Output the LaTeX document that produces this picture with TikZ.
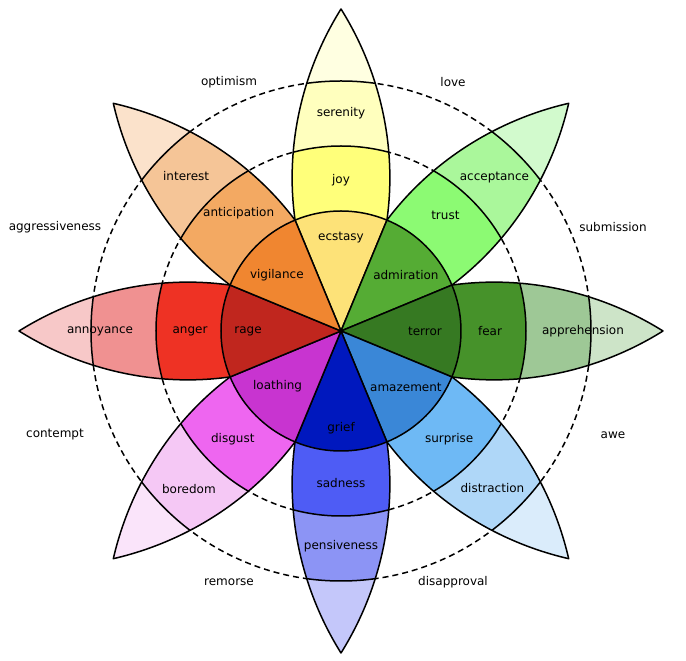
\documentclass[tikz,border=0pt]{standalone}
\usepackage{fontspec}
\setmainfont{DejaVu Sans}

% colours of the petals, from the centre outwards
\definecolor{ecstasyC}{RGB}{253,226,120}
\definecolor{joyC}{RGB}{255,255,122}
\definecolor{serenityC}{RGB}{255,255,190}
\definecolor{yellowtip}{RGB}{255,255,225}
\definecolor{admirationC}{RGB}{85,172,52}
\definecolor{trustC}{RGB}{140,250,115}
\definecolor{acceptanceC}{RGB}{170,247,155}
\definecolor{greentip}{RGB}{210,250,205}
\definecolor{terrorC}{RGB}{54,121,34}
\definecolor{fearC}{RGB}{70,146,42}
\definecolor{apprehensionC}{RGB}{158,200,150}
\definecolor{darkgreentip}{RGB}{205,228,200}
\definecolor{amazementC}{RGB}{58,135,215}
\definecolor{surpriseC}{RGB}{110,185,245}
\definecolor{distractionC}{RGB}{175,215,248}
\definecolor{bluetip}{RGB}{218,236,251}
\definecolor{griefC}{RGB}{0,24,190}
\definecolor{sadnessC}{RGB}{78,92,245}
\definecolor{pensivenessC}{RGB}{140,148,245}
\definecolor{darkbluetip}{RGB}{196,199,250}
\definecolor{loathingC}{RGB}{200,52,208}
\definecolor{disgustC}{RGB}{238,102,240}
\definecolor{boredomC}{RGB}{245,200,245}
\definecolor{purpletip}{RGB}{250,228,250}
\definecolor{rageC}{RGB}{192,38,30}
\definecolor{angerC}{RGB}{238,50,36}
\definecolor{annoyanceC}{RGB}{240,145,145}
\definecolor{redtip}{RGB}{247,200,200}
\definecolor{vigilanceC}{RGB}{240,134,48}
\definecolor{anticipationC}{RGB}{243,169,98}
\definecolor{interestC}{RGB}{245,197,151}
\definecolor{orangetip}{RGB}{251,226,203}

\tikzset{
  petal line/.style={line width=1.5pt, line join=round},
  dyad ring/.style={line width=1.5pt, dash pattern=on 6pt off 4pt},
  emotion/.style={font=\fontsize{12}{14}\selectfont, text=black, inner sep=0pt},
}

% one petal, pointing along the x axis
\newcommand{\petalpath}{(0,0) -- (-22.5:120) .. controls +(-8:74) and +(212:74) .. (322,0)
  .. controls +(148:74) and +(8:74) .. (22.5:120) -- cycle}

\begin{document}
\begin{tikzpicture}[x=1pt,y=1pt]
    \useasboundingbox (-341,-330) rectangle (345,331);

    % Draw the dashed rings between the petals
    \draw[dyad ring] (0,0) circle (185) (0,0) circle (250);

    % Draw the eight petals with their three bands
    \foreach \ang/\ca/\cb/\cc/\cd in {90/ecstasyC/joyC/serenityC/yellowtip,
        45/admirationC/trustC/acceptanceC/greentip,
        0/terrorC/fearC/apprehensionC/darkgreentip,
        -45/amazementC/surpriseC/distractionC/bluetip,
        -90/griefC/sadnessC/pensivenessC/darkbluetip,
        -135/loathingC/disgustC/boredomC/purpletip,
        180/rageC/angerC/annoyanceC/redtip,
        135/vigilanceC/anticipationC/interestC/orangetip} {
        \begin{scope}[rotate=\ang]
            \begin{scope}
                \clip \petalpath;
                \fill[\cd] \petalpath;
                \fill[\cc] (0,0) circle (250);
                \fill[\cb] (0,0) circle (185);
                \fill[\ca] (0,0) circle (120);
                \draw[petal line] (0,0) circle (120) (0,0) circle (185) (0,0) circle (250);
            \end{scope}
            \draw[petal line] \petalpath;
        \end{scope}
    }

    % Write the emotions on the petals
    \foreach \ang/\d/\lab in {90/93/ecstasy, 90/151/joy, 90/218/serenity,
        41/86/admiration, 48/156/trust, 45/217/acceptance,
        0/84/terror, 0/149/fear, 0/242/apprehension,
        -41/86/amazement, -45/153/surprise, -46/218/distraction,
        -90/97/grief, -90/152/sadness, -90/215/pensiveness,
        -139/84/loathing, -135/153/disgust, -134/219/boredom,
        180/93/rage, 180/151/anger, 180/241/annoyance,
        139/85/vigilance, 131/156/anticipation, 135/219/interest} {
        \node[emotion] (\lab) at (\ang:\d) {\lab};
    }

    % Write the dyads outside the petals
    \node[emotion] (optimism) at (-112,249) {optimism};
    \node[emotion] (love) at (112,249) {love};
    \node[emotion] (aggressiveness) at (-286,104) {aggressiveness};
    \node[emotion] (submission) at (272,104) {submission};
    \node[emotion] (contempt) at (-286,-104) {contempt};
    \node[emotion] (awe) at (272,-104) {awe};
    \node[emotion] (remorse) at (-112,-251) {remorse};
    \node[emotion] (disapproval) at (112,-251) {disapproval};

\end{tikzpicture}
\end{document}
